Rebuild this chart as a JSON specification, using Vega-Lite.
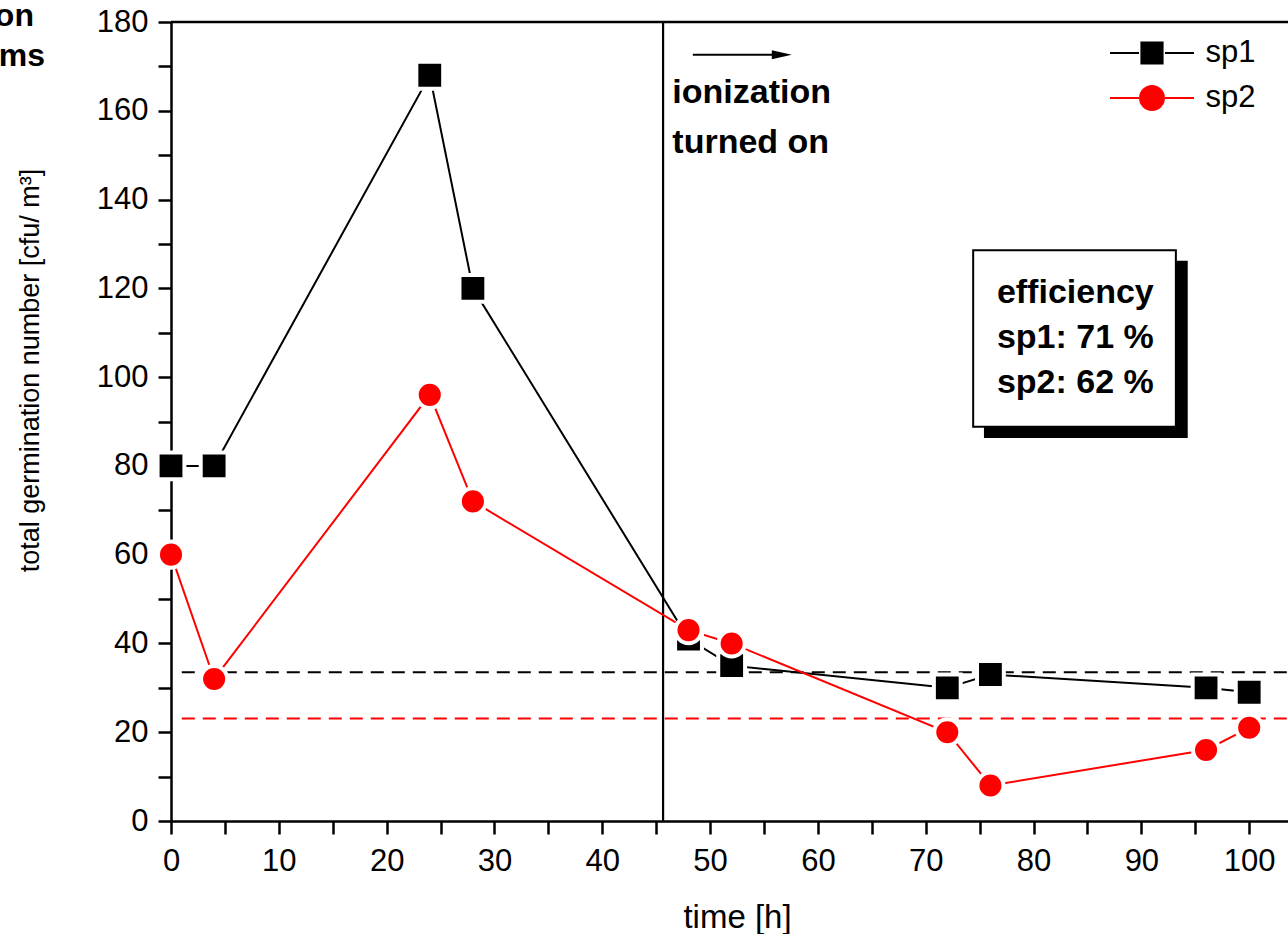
{
  "$schema": "https://vega.github.io/schema/vega-lite/v6.json",
  "width": 1117,
  "height": 799,
  "autosize": {"type": "none"},
  "padding": {"left": 171, "top": 22, "right": 0, "bottom": 113},
  "background": "white",
  "config": {
    "view": {"stroke": null},
    "axis": {
      "grid": false,
      "labelFont": "Liberation Sans",
      "titleFont": "Liberation Sans",
      "labelColor": "black",
      "titleColor": "black",
      "domainColor": "black",
      "tickColor": "black",
      "domainWidth": 2.5,
      "tickWidth": 2.5,
      "labelFontSize": 31,
      "titleFontWeight": "normal"
    },
    "legend": {
      "orient": "none",
      "legendX": 965.5,
      "legendY": 15.5,
      "padding": 0,
      "labelFont": "Liberation Sans",
      "labelFontSize": 31,
      "labelColor": "black",
      "symbolSize": 529,
      "symbolStrokeWidth": 2,
      "symbolOpacity": 1,
      "labelOffset": 38,
      "rowPadding": 13
    },
    "text": {"font": "Liberation Sans"}
  },
  "data": {
    "values": [
      {"time": 0, "count": 80, "series": "sp1"},
      {"time": 4, "count": 80, "series": "sp1"},
      {"time": 24, "count": 168, "series": "sp1"},
      {"time": 28, "count": 120, "series": "sp1"},
      {"time": 48, "count": 41, "series": "sp1"},
      {"time": 52, "count": 35, "series": "sp1"},
      {"time": 72, "count": 30, "series": "sp1"},
      {"time": 76, "count": 33, "series": "sp1"},
      {"time": 96, "count": 30, "series": "sp1"},
      {"time": 100, "count": 29, "series": "sp1"},
      {"time": 0, "count": 60, "series": "sp2"},
      {"time": 4, "count": 32, "series": "sp2"},
      {"time": 24, "count": 96, "series": "sp2"},
      {"time": 28, "count": 72, "series": "sp2"},
      {"time": 48, "count": 43, "series": "sp2"},
      {"time": 52, "count": 40, "series": "sp2"},
      {"time": 72, "count": 20, "series": "sp2"},
      {"time": 76, "count": 8, "series": "sp2"},
      {"time": 96, "count": 16, "series": "sp2"},
      {"time": 100, "count": 21, "series": "sp2"}
    ]
  },
  "layer": [
    {
      "data": {"values": [{}]},
      "mark": {"type": "rect", "fill": "black"},
      "encoding": {
        "x": {"datum": 75.4, "type": "quantitative"},
        "x2": {"datum": 94.3},
        "y": {"datum": 126.2, "type": "quantitative"},
        "y2": {"datum": 86.3}
      }
    },
    {
      "data": {"values": [{}]},
      "mark": {"type": "rect", "fill": "white", "stroke": "black", "strokeWidth": 2},
      "encoding": {
        "x": {"datum": 74.4, "type": "quantitative"},
        "x2": {"datum": 93.2},
        "y": {"datum": 128.6, "type": "quantitative"},
        "y2": {"datum": 88.8}
      }
    },
    {
      "data": {"values": [{}]},
      "mark": {"type": "rule", "color": "black", "strokeWidth": 2.5},
      "encoding": {
        "x": {"datum": 0, "type": "quantitative"},
        "x2": {"datum": 103.6},
        "y": {"datum": 180, "type": "quantitative"}
      }
    },
    {
      "data": {"values": [{}]},
      "mark": {"type": "rule", "color": "black", "strokeWidth": 2, "strokeDash": [13, 8]},
      "encoding": {
        "x": {"datum": 1, "type": "quantitative"},
        "x2": {"datum": 103.6},
        "y": {"datum": 33.5, "type": "quantitative"}
      }
    },
    {
      "data": {"values": [{}]},
      "mark": {"type": "rule", "color": "#ff0000", "strokeWidth": 2, "strokeDash": [13, 8]},
      "encoding": {
        "x": {"datum": 1, "type": "quantitative"},
        "x2": {"datum": 103.6},
        "y": {"datum": 23.1, "type": "quantitative"}
      }
    },
    {
      "data": {"values": [{}]},
      "mark": {"type": "rule", "color": "black", "strokeWidth": 2.2},
      "encoding": {
        "x": {"datum": 45.64, "type": "quantitative"},
        "y": {"datum": 0, "type": "quantitative"},
        "y2": {"datum": 180}
      }
    },
    {
      "mark": {"type": "line", "strokeWidth": 2},
      "encoding": {
        "x": {
          "field": "time",
          "type": "quantitative",
          "scale": {"domain": [0, 103.6], "nice": false, "zero": false},
          "axis": {
            "orient": "bottom",
            "title": "time [h]",
            "values": [0, 5, 10, 15, 20, 25, 30, 35, 40, 45, 50, 55, 60, 65, 70, 75, 80, 85, 90, 95, 100],
            "labelExpr": "datum.value % 10 === 0 ? datum.label : ''",
            "tickSize": 13,
            "labelPadding": 12,
            "labelFlush": false,
            "labelOverlap": false,
            "titleFontSize": 33,
            "titleBaseline": "alphabetic",
            "titleAlign": "center",
            "titleX": 566,
            "titleY": 106,
            "encode": {"ticks": {"y2": {"condition": {"test": "datum.value % 10 === 0", "value": 13}, "value": 8}}}
          }
        },
        "y": {
          "field": "count",
          "type": "quantitative",
          "scale": {"domain": [0, 180], "nice": false, "zero": false},
          "axis": {
            "orient": "left",
            "title": "total germination number [cfu/ m³]",
            "values": [0, 10, 20, 30, 40, 50, 60, 70, 80, 90, 100, 110, 120, 130, 140, 150, 160, 170, 180],
            "labelExpr": "datum.value % 20 === 0 ? datum.label : ''",
            "tickSize": 13,
            "labelPadding": 10,
            "labelFlush": false,
            "labelOverlap": false,
            "titleFontSize": 27,
            "titleAngle": 270,
            "titleBaseline": "alphabetic",
            "titleAlign": "center",
            "titleX": -133,
            "titleY": 348,
            "encode": {"ticks": {"x2": {"condition": {"test": "datum.value % 20 === 0", "value": -13}, "value": -8}}}
          }
        },
        "color": {
          "field": "series",
          "type": "nominal",
          "scale": {"domain": ["sp1", "sp2"], "range": ["black", "#ff0000"]},
          "legend": {"title": null}
        }
      }
    },
    {
      "transform": [{"filter": "datum.series === 'sp1'"}],
      "mark": {"type": "point", "shape": "square", "filled": true, "color": "black", "opacity": 1, "stroke": "white", "strokeWidth": 4, "strokeOpacity": 1, "size": 720},
      "encoding": {
        "x": {"field": "time", "type": "quantitative"},
        "y": {"field": "count", "type": "quantitative"}
      }
    },
    {
      "transform": [{"filter": "datum.series === 'sp2'"}],
      "mark": {"type": "point", "shape": "circle", "filled": true, "color": "#ff0000", "opacity": 1, "stroke": "white", "strokeWidth": 4, "strokeOpacity": 1, "size": 680},
      "encoding": {
        "x": {"field": "time", "type": "quantitative"},
        "y": {"field": "count", "type": "quantitative"}
      }
    },
    {
      "transform": [{"filter": "datum.time < 0"}],
      "mark": {"type": "point", "filled": true, "opacity": 1},
      "encoding": {
        "x": {"field": "time", "type": "quantitative"},
        "y": {"field": "count", "type": "quantitative"},
        "color": {"field": "series", "type": "nominal", "legend": {"title": null}},
        "stroke": {"field": "series", "type": "nominal", "scale": {"domain": ["sp1", "sp2"], "range": ["black", "#ff0000"]}, "legend": {"title": null}},
        "shape": {"field": "series", "type": "nominal", "scale": {"domain": ["sp1", "sp2"], "range": ["M-3.65,0H-1.13M1.13,0H3.65M-0.92,-0.92H0.92V0.92H-0.92Z", "M-3.65,0H-1.13M1.13,0H3.65M-1.04,0A1.04,1.04 0 1,0 1.04,0A1.04,1.04 0 1,0 -1.04,0Z"]}, "legend": {"title": null}}
      }
    },
    {
      "data": {"values": [{}]},
      "mark": {"type": "text", "text": ["ionization", "turned on"], "font": "Liberation Sans", "fontWeight": "bold", "fontSize": 34, "align": "left", "baseline": "alphabetic", "lineHeight": 50, "color": "black"},
      "encoding": {
        "x": {"datum": 46.5, "type": "quantitative"},
        "y": {"datum": 161.7, "type": "quantitative"}
      }
    },
    {
      "data": {"values": [{}]},
      "mark": {"type": "rule", "color": "black", "strokeWidth": 2},
      "encoding": {
        "x": {"datum": 48.4, "type": "quantitative"},
        "x2": {"datum": 56},
        "y": {"datum": 172.6, "type": "quantitative"}
      }
    },
    {
      "data": {"values": [{}]},
      "mark": {"type": "point", "shape": "M-1,-0.45L1,0L-1,0.45Z", "filled": true, "color": "black", "opacity": 1, "size": 400},
      "encoding": {
        "x": {"datum": 56.65, "type": "quantitative"},
        "y": {"datum": 172.6, "type": "quantitative"}
      }
    },
    {
      "data": {"values": [{}]},
      "mark": {"type": "text", "text": ["efficiency", "sp1: 71 %", "sp2: 62 %"], "font": "Liberation Sans", "fontWeight": "bold", "fontSize": 34, "align": "left", "baseline": "alphabetic", "lineHeight": 45, "color": "black"},
      "encoding": {
        "x": {"datum": 76.6, "type": "quantitative"},
        "y": {"datum": 116.7, "type": "quantitative"}
      }
    },
    {
      "data": {"values": [{}]},
      "mark": {"type": "text", "text": "on", "font": "Liberation Sans", "fontWeight": "bold", "fontSize": 32, "align": "right", "baseline": "alphabetic", "color": "black"},
      "encoding": {
        "x": {"datum": -12.71, "type": "quantitative"},
        "y": {"datum": 179.1, "type": "quantitative"}
      }
    },
    {
      "data": {"values": [{}]},
      "mark": {"type": "text", "text": "ms", "font": "Liberation Sans", "fontWeight": "bold", "fontSize": 32, "align": "right", "baseline": "alphabetic", "color": "black"},
      "encoding": {
        "x": {"datum": -11.69, "type": "quantitative"},
        "y": {"datum": 170.1, "type": "quantitative"}
      }
    }
  ]
}
